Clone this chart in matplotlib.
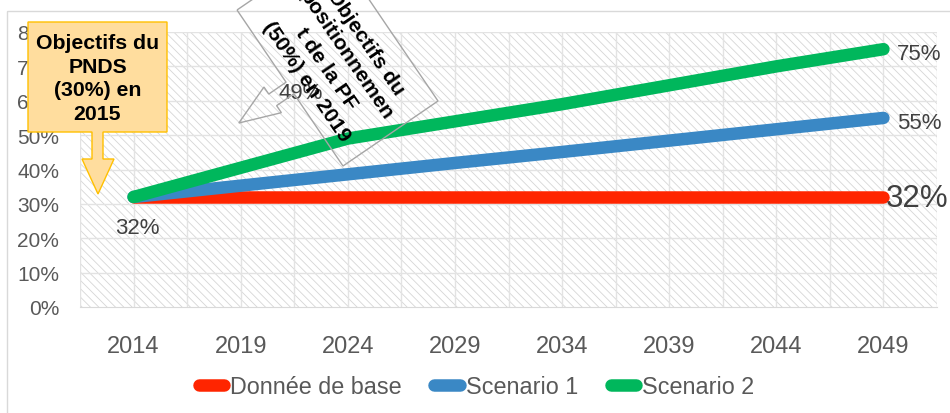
import numpy as np
import matplotlib.pyplot as plt
from matplotlib.patches import Polygon, Rectangle
from matplotlib.ticker import FuncFormatter

W, H = 950, 414

years = ["2014", "2019", "2024", "2029", "2034", "2039", "2044", "2049"]
base = [0.32, 0.32, 0.32, 0.32, 0.32, 0.32, 0.32, 0.32]
scen1 = [0.32, 0.353, 0.386, 0.419, 0.451, 0.484, 0.517, 0.55]
scen2 = [0.32, 0.405, 0.49, 0.54, 0.59, 0.645, 0.70, 0.75]
names = ["Donnée de base", "Scenario 1", "Scenario 2"]
colors = ["#FF2500", "#3A88C5", "#00B75C"]

plt.rcParams['font.family'] = ['Liberation Sans', 'DejaVu Sans']
plt.rcParams['hatch.linewidth'] = 0.6


def px(x, y):
    # image pixel (from top-left) -> figure fraction
    return (x / W, 1 - y / H)


fig = plt.figure(figsize=(9.5, 4.14), dpi=100)
ax = fig.add_axes([80 / W, 1 - 308 / H, 857 / W, 275 / H])
r = np.arange(len(years))

# hatched plot area
ax.add_patch(Rectangle((0, 0), 1, 1, transform=ax.transAxes, facecolor='white',
                       edgecolor='#D6D6D6', hatch='\\\\\\\\', lw=0, zorder=0))
for xv in np.arange(-0.5, len(years), 0.5):
    ax.axvline(xv, color='#E3E3E3', lw=1, zorder=1)
for yv in np.arange(0.1, 0.81, 0.1):
    ax.axhline(yv, color='#E3E3E3', lw=1, zorder=1)

for data, name, c in zip([base, scen1, scen2], names, colors):
    ax.plot(r, data, color=c, lw=9, solid_capstyle='round', label=name, zorder=3)

ax.set_xlim(-0.5, len(years) - 0.5)
ax.set_ylim(0, 0.8)
ax.set_xticks(r, years)
ax.set_yticks(np.arange(0, 0.81, 0.1))
ax.yaxis.set_major_formatter(FuncFormatter(lambda v, p: f"{v * 100:.0f}%"))
ax.tick_params(axis='x', length=0, pad=20, labelsize=17, labelcolor='#595959')
ax.tick_params(axis='y', length=0, pad=15, labelsize=15, labelcolor='#595959')
for s in ['top', 'right', 'left']:
    ax.spines[s].set_visible(False)
ax.spines['bottom'].set_color('#D9D9D9')

# data labels
lab = dict(textcoords='offset points', color='#404040', va='center')
ax.annotate(f"{scen2[0]*100:.0f}%", (r[0], scen2[0]), xytext=(3, -22), ha='center', fontsize=16, **lab)
ax.annotate(f"{scen2[2]*100:.0f}%", (r[2], scen2[2]), xytext=(-34, 33), ha='center', fontsize=16, **lab)
ax.annotate(f"{scen2[-1]*100:.0f}%", (r[-1], scen2[-1]), xytext=(10, -3), ha='left', fontsize=16, **lab)
ax.annotate(f"{scen1[-1]*100:.0f}%", (r[-1], scen1[-1]), xytext=(10, -3), ha='left', fontsize=16, **lab)
ax.annotate(f"{base[-1]*100:.0f}%", (r[-1], base[-1]), xytext=(2, -1), ha='left', fontsize=22.5, **lab)

ax.legend(loc='center', bbox_to_anchor=(476.5 / W, 1 - 388 / H), bbox_transform=fig.transFigure,
          ncol=3, frameon=False, fontsize=16.8, handlelength=1.1, handletextpad=0.25,
          columnspacing=1.4, labelcolor='#595959')

# chart border
fig.patches.append(Polygon([px(7, 12), px(960, 12), px(960, 430), px(7, 430)], closed=True,
                           fill=False, edgecolor='#D9D9D9', lw=1, transform=fig.transFigure))

# callout 1 (PNDS)
pts1 = [(28, 23), (167, 23), (167, 133), (103, 133), (103, 160), (114, 160), (98, 195),
        (82, 160), (92, 160), (92, 133), (28, 133)]
fig.patches.append(Polygon([px(*p) for p in pts1], closed=True, facecolor='#FFDD9E',
                           edgecolor='#FFC000', lw=1, transform=fig.transFigure))
fig.text(*px(97.5, 79), "Objectifs du\nPNDS\n(30%) en\n2015", ha='center', va='center',
         fontsize=15.3, fontweight='bold', linespacing=1.32, color='black')

# callout 2 (rotated)
A = np.array([237.0, 11.0]); B = np.array([343.0, 167.0]); C = np.array([438.0, 102.0])
D = A + (C - B)
u = (B - A) / np.linalg.norm(B - A)
v = (C - B) / np.linalg.norm(C - B)
M = (A + B) / 2
pts2 = [A, M - 7 * u, M - 7 * u - 21 * v, M - 15.5 * u - 21 * v, M - 62 * v,
        M + 15.5 * u - 21 * v, M + 7 * u - 21 * v, M + 7 * u, B, C, D]
fig.patches.append(Polygon([px(*p) for p in pts2], closed=True, fill=False,
                           edgecolor='#A6A6A6', lw=1, transform=fig.transFigure))
ang = -np.degrees(np.arctan2(B[1] - A[1], B[0] - A[0]))
fig.text(*px(336, 62), "Objectifs du\npositionnemen\nt de la PF\n(50%) en 2019", ha='center',
         va='center', rotation=ang, rotation_mode='anchor', fontsize=15.3, fontweight='bold',
         linespacing=1.3, color='black')

plt.savefig("out.png", dpi=100)
